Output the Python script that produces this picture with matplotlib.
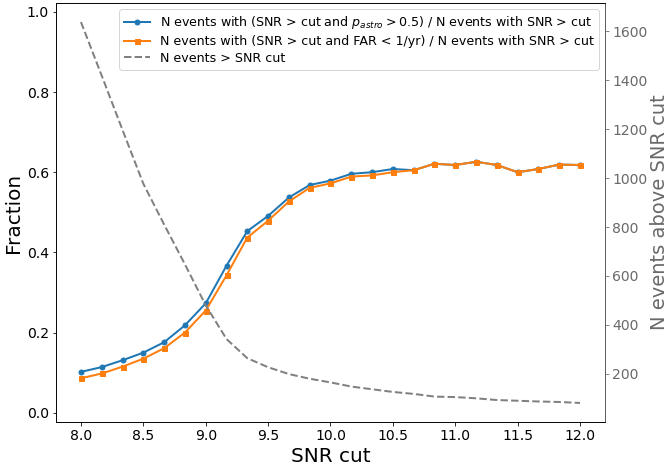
import matplotlib
matplotlib.use("Agg")
import matplotlib.pyplot as plt
import numpy as np

# SNR thresholds (25 cuts from 8 to 12)
snr_cut = [8.0, 8.167, 8.333, 8.5, 8.667, 8.833, 9.0, 9.167, 9.333, 9.5,
           9.667, 9.833, 10.0, 10.167, 10.333, 10.5, 10.667, 10.833, 11.0,
           11.167, 11.333, 11.5, 11.667, 11.833, 12.0]

# fraction of events above the cut with p_astro > 0.5
frac_pastro = [0.102, 0.114, 0.131, 0.150, 0.176, 0.218, 0.273, 0.367, 0.453,
               0.491, 0.537, 0.568, 0.579, 0.596, 0.600, 0.608, 0.605, 0.621,
               0.618, 0.626, 0.618, 0.600, 0.608, 0.619, 0.618]

# fraction of events above the cut with FAR < 1/yr
frac_far = [0.086, 0.098, 0.115, 0.135, 0.161, 0.200, 0.255, 0.343, 0.437,
            0.479, 0.527, 0.561, 0.572, 0.589, 0.592, 0.600, 0.605, 0.621,
            0.618, 0.626, 0.618, 0.600, 0.608, 0.619, 0.618]

# number of events above the cut
n_above = [1638, 1418, 1197, 977, 810, 648, 480, 342, 264, 227, 199, 180,
           165, 148, 137, 126, 118, 107, 105, 100, 93, 90, 87, 85, 81]

DPI = 72
fig = plt.figure(figsize=(668 / DPI, 468 / DPI), dpi=DPI)
ax = fig.add_axes([56 / 668, 1 - 422 / 468, (605 - 56) / 668, (422 - 3) / 468])

l1, = ax.plot(snr_cut, frac_pastro, "-o", color="#1f77b4", lw=2, ms=5,
              label=r"N events with (SNR > cut and $p_{astro} > 0.5$) / N events with SNR > cut")
l2, = ax.plot(snr_cut, frac_far, "-s", color="#ff7f0e", lw=2, ms=5,
              label="N events with (SNR > cut and FAR < 1/yr) / N events with SNR > cut")
ax.set_ylim(-0.023, 1.022)
ax.set_xticks(np.arange(8.0, 12.01, 0.5))
ax.set_xlabel("SNR cut", fontsize=20)
ax.set_ylabel("Fraction", fontsize=20)
ax.tick_params(labelsize=14)

ax2 = ax.twinx()
l3, = ax2.plot(snr_cut, n_above, "--", color="gray", lw=2,
               label="N events > SNR cut")
ax2.set_ylabel("N events above SNR cut", fontsize=19.5, color="dimgray",
               labelpad=3)
ax2.tick_params(axis="y", labelsize=14, colors="dimgray")
ax2.spines["right"].set_color("dimgray")

ax2.legend(handles=[l1, l2, l3], loc="upper right", fontsize=12.6,
           labelspacing=0.3)

fig.savefig("out.png", dpi=DPI)
